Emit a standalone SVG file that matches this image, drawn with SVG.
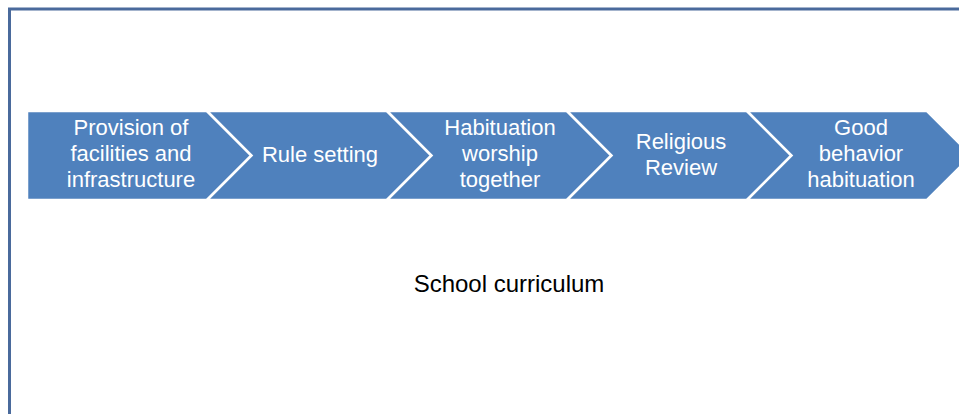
<svg xmlns="http://www.w3.org/2000/svg" width="959" height="414" viewBox="0 0 959 414">
<style>
.chev{fill:#4F81BD;stroke:#ffffff;stroke-width:2.5;stroke-linejoin:miter}
.lbl{font-family:"Liberation Sans",Arial,sans-serif;font-size:22px;fill:#ffffff;text-anchor:middle}
.cap{font-family:"Liberation Sans",Arial,sans-serif;font-size:24px;fill:#000000;text-anchor:middle}
</style>
<rect x="0" y="0" width="959" height="414" fill="#ffffff"/>
<rect id="frame" x="9.5" y="9" width="1000" height="450" fill="none" stroke="#4A6A9C" stroke-width="3"/>
<g id="connectors"></g>
<g id="n1">
<path class="chev" d="M27,111 H207 L251.5,155.5 L207,200 H27 Z"/>
<text class="lbl" x="131" y="135">Provision of</text>
<text class="lbl" x="131" y="161">facilities and</text>
<text class="lbl" x="131" y="187">infrastructure</text>
</g>
<g id="n2">
<path class="chev" d="M207,111 H387 L431.5,155.5 L387,200 H207 L251.5,155.5 Z"/>
<text class="lbl" x="320" y="162">Rule setting</text>
</g>
<g id="n3">
<path class="chev" d="M387,111 H567 L611.5,155.5 L567,200 H387 L431.5,155.5 Z"/>
<text class="lbl" x="500" y="135">Habituation</text>
<text class="lbl" x="500" y="161">worship</text>
<text class="lbl" x="500" y="187">together</text>
</g>
<g id="n4">
<path class="chev" d="M567,111 H747 L791.5,155.5 L747,200 H567 L611.5,155.5 Z"/>
<text class="lbl" x="681" y="149">Religious</text>
<text class="lbl" x="681" y="175">Review</text>
</g>
<g id="n5">
<path class="chev" d="M747,111 H927 L971.5,155.5 L927,200 H747 L791.5,155.5 Z"/>
<text class="lbl" x="861" y="135">Good</text>
<text class="lbl" x="861" y="161">behavior</text>
<text class="lbl" x="861" y="187">habituation</text>
</g>
<g id="caption">
<text class="cap" x="509" y="292">School curriculum</text>
</g>
</svg>
